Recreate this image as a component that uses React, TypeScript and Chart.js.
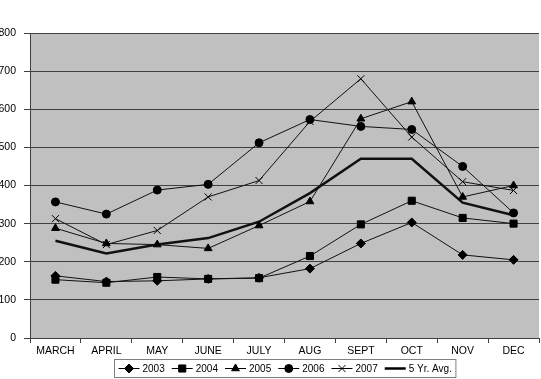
import React, { useEffect, useRef } from "react";
import { Chart, registerables } from "chart.js";
import { drawPoint } from "chart.js/helpers";

Chart.register(...registerables);

const months = ["MARCH", "APRIL", "MAY", "JUNE", "JULY", "AUG", "SEPT", "OCT", "NOV", "DEC"];
const y2003 = [163, 148, 150, 155, 158, 182, 248, 303, 218, 205];
const y2004 = [153, 145, 160, 155, 157, 215, 298, 360, 315, 300];
const y2005 = [288, 248, 245, 235, 295, 358, 575, 620, 370, 400];
const y2006 = [357, 325, 388, 403, 512, 573, 555, 547, 450, 328];
const y2007 = [313, 245, 282, 370, 413, 568, 680, 527, 410, 387];
const avg5 = [255, 222, 245, 262, 305, 380, 470, 470, 355, 322];
const seriesLabels = ["2003", "2004", "2005", "2006", "2007", "5 Yr. Avg."];
const yMin = 0;
const yMax = 800;
const yStep = 100;

const FONT = "'Liberation Sans', Arial, sans-serif";

const plotBg = {
  id: "plotBg",
  beforeDraw(chart: any) {
    const { ctx, chartArea } = chart;
    ctx.save();
    ctx.fillStyle = "#c0c0c0";
    ctx.fillRect(chartArea.left, chartArea.top, chartArea.right - chartArea.left, chartArea.bottom - chartArea.top);
    ctx.restore();
  },
};

const boxLegend = {
  id: "boxLegend",
  afterDraw(chart: any) {
    const { ctx, chartArea } = chart;
    const lineLen = 21, gapLT = 3, gapItem = 7, pad = 4;
    ctx.save();
    ctx.font = `10px ${FONT}`;
    const items = chart.data.datasets.map((ds: any) => ({ ds, w: ctx.measureText(ds.label).width }));
    let total = pad * 2;
    items.forEach((it: any, i: number) => {
      total += lineLen + gapLT + it.w + (i < items.length - 1 ? gapItem : 0);
    });
    const cx = (chartArea.left + chartArea.right) / 2;
    const boxTop = chart.height - 20;
    const boxH = 18;
    let x = Math.round(cx - total / 2) + 0.5;
    ctx.fillStyle = "#ffffff";
    ctx.fillRect(x, boxTop + 0.5, total, boxH);
    ctx.strokeStyle = "#808080";
    ctx.lineWidth = 1;
    ctx.strokeRect(x, boxTop + 0.5, total, boxH);
    const cy = boxTop + boxH / 2 + 0.5;
    x += pad;
    items.forEach((it: any) => {
      const ds = it.ds;
      ctx.strokeStyle = "#000";
      ctx.lineWidth = ds.borderWidth;
      ctx.beginPath();
      ctx.moveTo(x, cy);
      ctx.lineTo(x + lineLen, cy);
      ctx.stroke();
      if (ds.pointRadius > 0) {
        ctx.fillStyle = "#000";
        ctx.strokeStyle = "#000";
        ctx.lineWidth = 1;
        drawPoint(ctx, { pointStyle: ds.pointStyle, radius: ds.pointRadius, rotation: 0, borderWidth: 1 }, x + lineLen / 2, cy);
      }
      x += lineLen + gapLT;
      ctx.fillStyle = "#000";
      ctx.textBaseline = "middle";
      ctx.textAlign = "left";
      ctx.fillText(ds.label, x, cy + 0.5);
      x += it.w + gapItem;
    });
    ctx.restore();
  },
};

function mk(label: string, data: number[], style: any, radius: number, width = 1) {
  return {
    label,
    data,
    borderColor: "#111",
    borderWidth: width,
    backgroundColor: "#000",
    pointStyle: style,
    pointRadius: radius,
    pointBackgroundColor: "#000",
    pointBorderColor: "#000",
    pointBorderWidth: 1,
    tension: 0,
    fill: false,
  };
}

export default function App() {
  const ref = useRef<HTMLCanvasElement | null>(null);
  useEffect(() => {
    if (!ref.current) return;
    const chart = new Chart(ref.current, {
      type: "line",
      data: {
        labels: months,
        datasets: [
          mk(seriesLabels[0], y2003, "rectRot", 4.5),
          mk(seriesLabels[1], y2004, "rect", 5),
          mk(seriesLabels[2], y2005, "triangle", 4.5),
          mk(seriesLabels[3], y2006, "circle", 4),
          mk(seriesLabels[4], y2007, "crossRot", 5),
          mk(seriesLabels[5], avg5, "circle", 0, 2.5),
        ],
      },
      options: {
        animation: false,
        responsive: true,
        maintainAspectRatio: false,
        layout: { padding: { top: 33, right: 1, bottom: 21, left: 0 } },
        plugins: { legend: { display: false }, tooltip: { enabled: false } },
        scales: {
          x: {
            offset: true,
            grid: { offset: true, drawOnChartArea: false, drawTicks: true, tickLength: 5, color: "#404040" },
            border: { color: "#404040" },
            ticks: { color: "#000", font: { family: FONT, size: 10.5 }, padding: 2, maxRotation: 0, autoSkip: false },
            afterFit: (s: any) => { s.height = 20; },
          },
          y: {
            min: yMin,
            max: yMax,
            grid: { color: "#404040", tickLength: 6 },
            border: { color: "#404040" },
            ticks: { stepSize: yStep, color: "#000", font: { family: FONT, size: 10.5 }, padding: 8 },
            afterFit: (s: any) => { s.width = 34; },
          },
        },
      },
      plugins: [plotBg, boxLegend],
    });
    return () => chart.destroy();
  }, []);
  return (
    <div style={{ position: "fixed", left: 0, top: 0, width: 541, height: 379, overflow: "hidden", background: "#fff" }}>
      <div style={{ position: "absolute", left: -4, top: 0, width: 549, height: 379 }}>
        <canvas ref={ref} />
      </div>
    </div>
  );
}
